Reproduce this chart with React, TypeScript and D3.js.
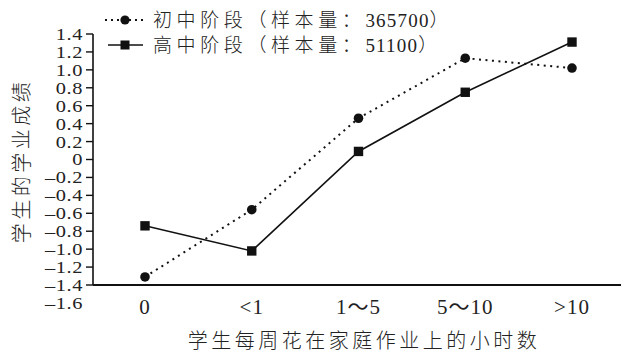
import React from "react";
import * as d3 from "d3";

const categories = ["0", "<1", "1～5", "5～10", ">10"];
const juniorValues = [-1.31, -0.56, 0.46, 1.13, 1.02];
const seniorValues = [-0.74, -1.02, 0.09, 0.75, 1.31];
const yTicks = [1.4, 1.2, 1.0, 0.8, 0.6, 0.4, 0.2, 0, -0.2, -0.4, -0.6, -0.8, -1.0, -1.2, -1.4, -1.6];
const legendJunior = { name: "初中阶段（样本量：", n: "365700", close: "）" };
const legendSenior = { name: "高中阶段（样本量：", n: "51100", close: "）" };
const xTitle = "学生每周花在家庭作业上的小时数";
const yTitle = "学生的学业成绩";

const W = 627;
const H = 357;
const SERIF = "Liberation Serif, Times New Roman, DejaVu Serif, Noto Serif, serif";
const CJK = "Noto Sans CJK SC, sans-serif";

export default function App() {
  const axisX = 93;
  const axisRight = 621;
  const y = d3.scaleLinear().domain([-1.4, 1.4]).range([285, 34]);
  const x = d3.scalePoint<string>().domain(categories).range([145, 572]);
  const line = d3
    .line<number>()
    .x((_, i) => x(categories[i]) as number)
    .y((d) => y(d));
  const fmt = (v: number) =>
    v === 0 ? "0" : (v < 0 ? "\u2013" : "") + d3.format(".1f")(Math.abs(v));
  const axisBottomY = y(-1.4);

  const legendRow = (
    ly: number,
    item: { name: string; n: string; close: string },
    dotted: boolean
  ) => (
    <g>
      <line
        x1={dotted ? 105 : 108}
        x2={143}
        y1={ly}
        y2={ly}
        stroke="#111"
        strokeWidth={dotted ? 2 : 1.6}
        strokeDasharray={dotted ? "2,4" : undefined}
      />
      {dotted ? (
        <circle cx={125} cy={ly} r={4.6} fill="#111" />
      ) : (
        <rect x={120.5} y={ly - 4.5} width={9} height={9} fill="#111" />
      )}
      <text x={153} y={ly + 7} fontSize={19} fill="#222">
        <tspan style={{ fontFamily: CJK, fontWeight: 300 }} letterSpacing={4.6}>
          {item.name}
        </tspan>
        <tspan style={{ fontFamily: SERIF }} letterSpacing={1.2}>
          {item.n}
        </tspan>
        <tspan style={{ fontFamily: CJK, fontWeight: 300 }}>{item.close}</tspan>
      </text>
    </g>
  );

  return (
    <svg
      width={W}
      height={H}
      style={{ position: "absolute", left: 0, top: 0, background: "#fff" }}
    >
      <line x1={axisX} x2={axisX} y1={y(1.4)} y2={axisBottomY} stroke="#111" strokeWidth={1.6} />
      {yTicks.map((t) => (
        <g key={t}>
          {t >= -1.4 && (
            <line x1={axisX - 7} x2={axisX} y1={y(t)} y2={y(t)} stroke="#111" strokeWidth={1.4} />
          )}
          <g transform={`translate(83,${y(t)}) scale(1.2,1)`}>
            <text
              x={0}
              y={0}
              dy="0.35em"
              textAnchor="end"
              letterSpacing={0.5}
              style={{ fontFamily: SERIF, fontSize: 17 }}
              fill="#222"
            >
              {fmt(t)}
            </text>
          </g>
        </g>
      ))}
      <line x1={axisX} x2={axisRight} y1={axisBottomY} y2={axisBottomY} stroke="#111" strokeWidth={1.8} />
      {categories.map((c) => (
        <text
          key={c}
          x={x(c)}
          y={307}
          dy="0.35em"
          textAnchor="middle"
          letterSpacing={1}
          style={{ fontFamily: SERIF + ", Noto Sans CJK SC", fontSize: 21 }}
          fill="#222"
        >
          {c}
        </text>
      ))}
      <text
        x={364}
        y={341}
        dy="0.35em"
        textAnchor="middle"
        style={{ fontFamily: CJK, fontWeight: 300, fontSize: 20 }}
        letterSpacing={3.5}
        fill="#222"
      >
        {xTitle}
      </text>
      <text
        transform={`translate(22,161) rotate(-90)`}
        dy="0.35em"
        textAnchor="middle"
        style={{ fontFamily: CJK, fontWeight: 300, fontSize: 20 }}
        letterSpacing={3.5}
        fill="#222"
      >
        {yTitle}
      </text>
      <path d={line(juniorValues) || ""} fill="none" stroke="#111" strokeWidth={2} strokeDasharray="2,4.5" />
      <path d={line(seniorValues) || ""} fill="none" stroke="#111" strokeWidth={1.6} />
      {juniorValues.map((v, i) => (
        <circle key={i} cx={x(categories[i])} cy={y(v)} r={4.8} fill="#111" />
      ))}
      {seniorValues.map((v, i) => (
        <rect
          key={i}
          x={(x(categories[i]) as number) - 4.7}
          y={y(v) - 4.7}
          width={9.4}
          height={9.4}
          fill="#111"
        />
      ))}
      {legendRow(20, legendJunior, true)}
      {legendRow(45, legendSenior, false)}
    </svg>
  );
}
